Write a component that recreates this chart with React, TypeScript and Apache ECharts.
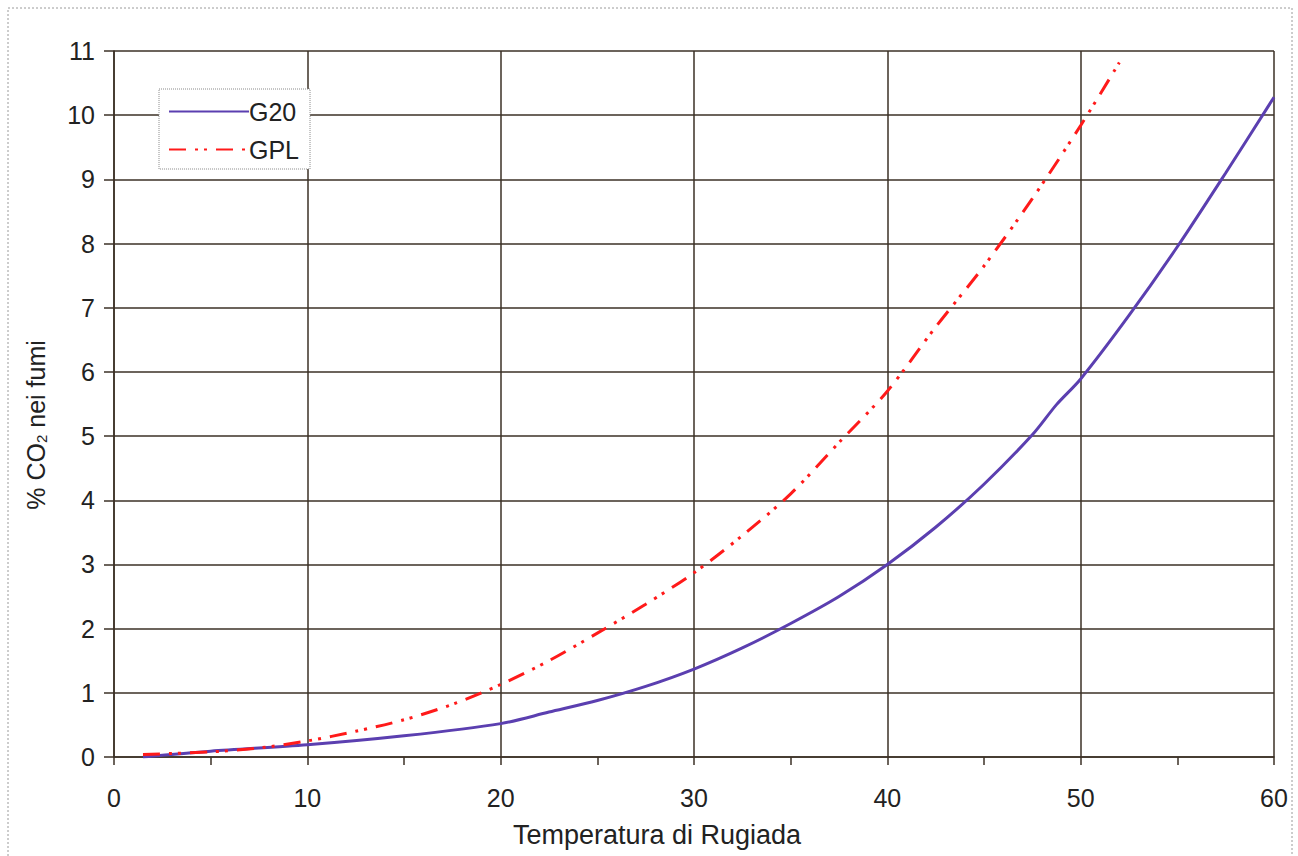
import React, { useEffect, useRef } from "react";
import * as echarts from "echarts";

const g20X = [1.5, 5, 10, 15, 20, 22.5, 25, 27.5, 30, 32.5, 35, 37.5, 40, 42.5, 45, 47.5, 48.75, 50, 52.5, 55, 57.5, 60];
const g20Y = [0.0, 0.09, 0.19, 0.33, 0.52, 0.7, 0.88, 1.1, 1.37, 1.7, 2.08, 2.5, 3.0, 3.58, 4.25, 5.02, 5.49, 5.89, 6.88, 7.95, 9.1, 10.28];

const gplX = [1.5, 5, 7.5, 10, 12.5, 15, 17.5, 20, 22.5, 25, 27.5, 30, 32.5, 35, 37.5, 40, 42.5, 45, 47.5, 50, 52];
const gplY = [0.04, 0.08, 0.14, 0.25, 0.4, 0.58, 0.82, 1.13, 1.5, 1.93, 2.38, 2.87, 3.45, 4.1, 4.9, 5.7, 6.7, 7.65, 8.7, 9.84, 10.82];

const seriesNames = ["G20", "GPL"];
const xTitle = "Temperatura di Rugiada";
const yTitle = "% CO{sub|2} nei fumi";

const FONT = "'Liberation Sans', Arial, sans-serif";
const GRID = "#3b3026";

export default function App() {
  const ref = useRef<HTMLDivElement>(null);
  useEffect(() => {
    if (!ref.current) return;
    const chart = echarts.init(ref.current, null, { renderer: "svg" });
    const g20 = g20X.map((x, i) => [x, g20Y[i]]);
    const gpl = gplX.map((x, i) => [x, gplY[i]]);
    chart.setOption({
      animation: false,
      backgroundColor: "#ffffff",
      textStyle: { fontFamily: FONT },
      grid: { left: 114, right: 24, top: 51, bottom: 99, containLabel: false },
      graphic: [
        {
          type: "rect",
          shape: { x: 8, y: 8, width: 1284, height: 900 },
          style: { fill: "none", stroke: "#9a9a9a", lineWidth: 1, lineDash: [2, 2] },
          silent: true,
          z: -1,
        },
      ],
      legend: {
        orient: "vertical",
        left: 159,
        top: 89,
        data: seriesNames,
        itemWidth: 80,
        itemHeight: 14,
        itemGap: 13,
        padding: [10, 11, 7, 9],
        backgroundColor: "#ffffff",
        borderColor: "#8a8a8a",
        borderWidth: 1,
        borderType: "dotted",
        itemStyle: { opacity: 0 },
        textStyle: { fontSize: 25, color: "#222", fontFamily: FONT, padding: [0, 0, 0, -5] },
      },
      xAxis: {
        type: "value",
        min: 0,
        max: 60,
        interval: 10,
        name: xTitle,
        nameLocation: "middle",
        nameGap: 64,
        nameTextStyle: { fontSize: 27, color: "#222", fontFamily: FONT, padding: [0, 74, 0, 0] },
        axisLine: { show: true, lineStyle: { color: GRID, width: 1.5 } },
        axisTick: { show: true, length: 8, lineStyle: { color: GRID, width: 1.5 } },
        minorTick: { show: true, splitNumber: 2, length: 8, lineStyle: { color: GRID, width: 1.5 } },
        axisLabel: { fontSize: 25, color: "#222", margin: 28, fontFamily: FONT },
        splitLine: { show: true, lineStyle: { color: GRID, width: 1.5 } },
      },
      yAxis: {
        type: "value",
        min: 0,
        max: 11,
        interval: 1,
        name: yTitle,
        nameLocation: "middle",
        nameGap: 65,
        nameTextStyle: {
          fontSize: 25,
          color: "#222",
          fontFamily: FONT,
          padding: [0, 42, 0, 0],
          rich: { sub: { fontSize: 15, color: "#222", fontFamily: FONT, verticalAlign: "bottom", padding: [12, 0, 0, 0] } },
        },
        axisLine: { show: true, lineStyle: { color: GRID, width: 1.5 } },
        axisTick: { show: true, length: 10, lineStyle: { color: GRID, width: 1.5 } },
        axisLabel: { fontSize: 25, color: "#222", margin: 19, fontFamily: FONT },
        splitLine: { show: true, lineStyle: { color: GRID, width: 1.5 } },
      },
      series: [
        {
          name: seriesNames[0],
          type: "line",
          data: g20,
          showSymbol: false,
          symbol: "none",
          smooth: 0.3,
          lineStyle: { color: "#5b3fb0", width: 3 },
          itemStyle: { color: "#5b3fb0" },
          z: 3,
        },
        {
          name: seriesNames[1],
          type: "line",
          data: gpl,
          showSymbol: false,
          symbol: "none",
          smooth: 0.3,
          lineStyle: { color: "#ff1a1a", width: 3, type: [17, 9, 3, 6, 3, 9], cap: "butt" },
          itemStyle: { color: "#ff1a1a" },
          z: 4,
        },
      ],
    });
    return () => chart.dispose();
  }, []);
  return (
    <div
      ref={ref}
      style={{ position: "fixed", left: 0, top: 0, width: 1298, height: 856, background: "#fff" }}
    />
  );
}
